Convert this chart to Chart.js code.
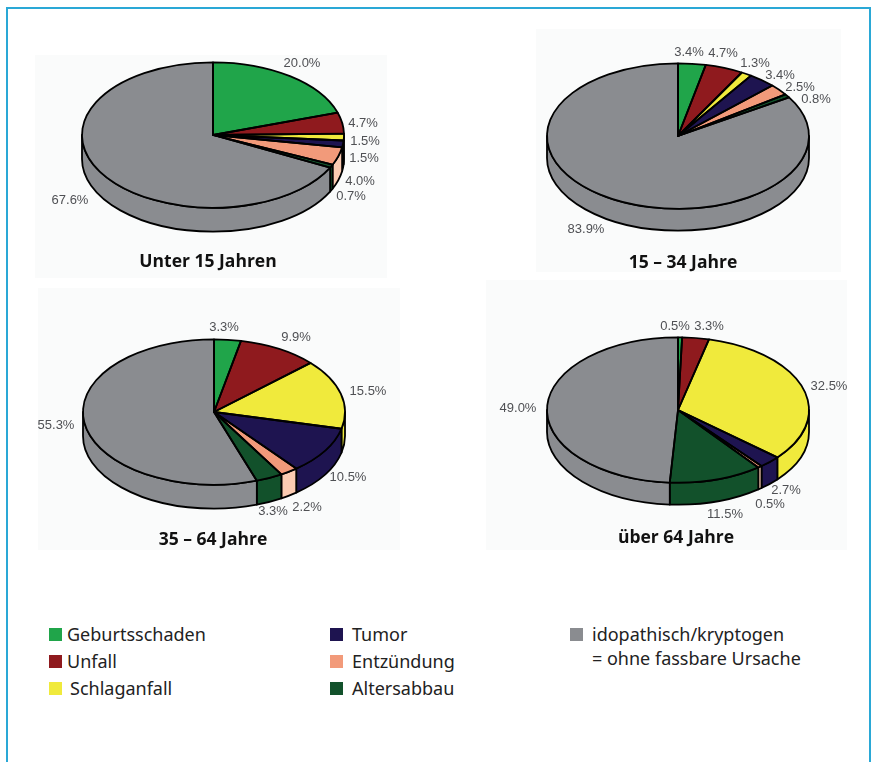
<!DOCTYPE html>
<html lang="de">
<head>
<meta charset="utf-8">
<title>Ursachen nach Altersgruppe</title>
<script src="https://cdn.jsdelivr.net/npm/chart.js@4"></script>
<style>
  html, body { margin: 0; padding: 0; background: #fff; }
  #page { position: relative; width: 875px; height: 762px; overflow: hidden; }
  #frame { position: absolute; left: 6px; top: 7px; width: 861px; height: 780px; border: 2px solid #2aa8d6; }
  .panel { position: absolute; background: #fafbfb; }
  #p1 { left: 35px; top: 55px; width: 352px; height: 223px; }
  #p2 { left: 536px; top: 29px; width: 305px; height: 243px; }
  #p3 { left: 38px; top: 288px; width: 362px; height: 262px; }
  #p4 { left: 486px; top: 280px; width: 361px; height: 270px; }
  canvas { position: absolute; width: 380px; height: 300px; }
  #c1 { left: 23px; top: -15px; }
  #c2 { left: 488px; top: -14px; }
  #c3 { left: 24px; top: 262px; }
  #c4 { left: 488px; top: 260px; }
  .ptitle { position: absolute; transform: translate(-50%, -50%); white-space: nowrap;
            font: bold 17.5px "Open Sans", sans-serif; color: #111; }
  .swatch { position: absolute; width: 13px; height: 13px; }
  .ltext { position: absolute; white-space: pre; font: 18px/20px "Noto Sans", sans-serif; color: #222; transform: translateY(calc(-50% - 1px)); }
</style>
</head>
<body>
<div id="page">
  <div id="frame"></div>
  <div class="panel" id="p1"></div>
  <div class="panel" id="p2"></div>
  <div class="panel" id="p3"></div>
  <div class="panel" id="p4"></div>
  <canvas id="c1" width="380" height="300"></canvas>
  <canvas id="c2" width="380" height="300"></canvas>
  <canvas id="c3" width="380" height="300"></canvas>
  <canvas id="c4" width="380" height="300"></canvas>
  <div class="ptitle" style="left:208px;top:260px">Unter 15 Jahren</div>
  <div class="ptitle" style="left:683px;top:261px">15 – 34 Jahre</div>
  <div class="ptitle" style="left:213px;top:538px">35 – 64 Jahre</div>
  <div class="ptitle" style="left:676px;top:536px">über 64 Jahre</div>
  <div id="legend"></div>
</div>
<script>
const categories = ['Geburtsschaden', 'Unfall', 'Schlaganfall', 'Tumor', 'Entzündung', 'Altersabbau', 'idopathisch/kryptogen\n= ohne fassbare Ursache'];

const under15 = [20.0, 4.7, 1.5, 1.5, 4.0, 0.7, 67.6];
const age15to34 = [3.4, 4.7, 1.3, 3.4, 2.5, 0.8, 83.9];
const age35to64 = [3.3, 9.9, 15.5, 10.5, 2.2, 3.3, 55.3];
const over64 = [0.5, 3.3, 32.5, 2.7, 0.5, 11.5, 49.0];

const topColors = ['#20a54a', '#8f1a1e', '#f0ea3c', '#1e1450', '#f29a7a', '#12512b', '#8a8c90'];
const wallColors = ['#20a54a', '#8f1a1e', '#f0ea3c', '#1e1450', '#fbcbb2', '#12512b', '#8a8c90'];

// hand placed percent labels, offset from the pie centre
const under15Spots = [[89, -72], [150, -12], [152, 6], [151, 23], [147, 46], [138, 61], [-143, 65]];
const age15to34Spots = [[11, -84], [45, -83], [77, -73], [102, -61], [122, -49], [138, -37], [-92, 93]];
const age35to64Spots = [[10, -85], [82, -75], [154, -21], [134, 65], [93, 95], [59, 99], [-158, 13]];
const over64Spots = [[-3, -84], [31, -84], [151, -24], [108, 80], [92, 94], [47, 104], [-160, -2]];

const squash = 0.555;
const outlineWidth = 1.8;

// pie lying flat: library arcs get squashed, the side wall goes underneath
const tiltedPie = {
  id: 'tiltedPie',
  beforeDatasetsDraw(chart, args, opts) {
    const ctx = chart.ctx;
    const arcs = chart.getDatasetMeta(0).data;
    ctx.save();
    ctx.strokeStyle = '#000';
    ctx.lineWidth = outlineWidth;
    ctx.lineJoin = 'round';
    arcs.forEach((arc, i) => {
      const from = Math.max(arc.startAngle, 0);
      const to = Math.min(arc.endAngle, Math.PI);
      if (to <= from) return;
      const rx = arc.outerRadius;
      const ry = rx * squash;
      ctx.beginPath();
      ctx.ellipse(arc.x, arc.y, rx, ry, 0, from, to);
      ctx.ellipse(arc.x, arc.y + opts.depth, rx, ry, 0, to, from, true);
      ctx.closePath();
      ctx.fillStyle = wallColors[i];
      ctx.fill();
      ctx.stroke();
    });
    ctx.restore();
  },
  beforeDatasetDraw(chart) {
    const ctx = chart.ctx;
    const arc = chart.getDatasetMeta(0).data[0];
    ctx.save();
    ctx.translate(arc.x, arc.y);
    ctx.scale(1, squash);
    ctx.translate(-arc.x, -arc.y);
  },
  afterDatasetDraw(chart) {
    const ctx = chart.ctx;
    ctx.restore();
    // outlines are stroked unscaled so the line weight stays even
    ctx.save();
    ctx.strokeStyle = '#000';
    ctx.lineWidth = outlineWidth;
    ctx.lineJoin = 'round';
    chart.getDatasetMeta(0).data.forEach(arc => {
      const rx = arc.outerRadius;
      ctx.beginPath();
      ctx.moveTo(arc.x, arc.y);
      ctx.ellipse(arc.x, arc.y, rx, rx * squash, 0, arc.startAngle, arc.endAngle);
      ctx.closePath();
      ctx.stroke();
    });
    ctx.restore();
  },
  afterDatasetsDraw(chart, args, opts) {
    const ctx = chart.ctx;
    const arcs = chart.getDatasetMeta(0).data;
    const values = chart.data.datasets[0].data;
    ctx.save();
    ctx.font = '13px "Liberation Sans", sans-serif';
    ctx.fillStyle = '#4f5054';
    ctx.textAlign = 'center';
    ctx.textBaseline = 'middle';
    values.forEach((v, i) => {
      const spot = opts.spots[i];
      ctx.fillText(v.toFixed(1) + '%', arcs[i].x + spot[0], arcs[i].y + spot[1]);
    });
    ctx.restore();
  }
};

function makePie(id, values, spots, depth) {
  return new Chart(document.getElementById(id), {
    type: 'pie',
    data: {
      labels: categories,
      datasets: [{ data: values, backgroundColor: topColors, borderWidth: 0, radius: 131 }]
    },
    options: {
      responsive: false,
      animation: false,
      events: [],
      plugins: { legend: { display: false }, tooltip: { enabled: false }, tiltedPie: { spots: spots, depth: depth } }
    },
    plugins: [tiltedPie]
  });
}

makePie('c1', under15, under15Spots, 24);
makePie('c2', age15to34, age15to34Spots, 22);
makePie('c3', age35to64, age35to64Spots, 24);
makePie('c4', over64, over64Spots, 22);

// legend, three columns
const legendSpots = [[49, 634.5, 67], [49, 661.5, 67], [49, 688.5, 70], [330, 634.5, 352], [330, 661.5, 352], [330, 688.5, 352], [570, 634.5, 592]];
const legend = document.getElementById('legend');
categories.forEach((name, i) => {
  const [sx, sy, tx] = legendSpots[i];
  const twoLines = name.includes('\n');
  const sw = document.createElement('div');
  sw.className = 'swatch';
  sw.style.cssText = `left:${sx}px;top:${sy - 6.5}px;background:${topColors[i]}`;
  legend.appendChild(sw);
  const t = document.createElement('div');
  t.className = 'ltext';
  t.style.cssText = `left:${tx}px;top:${twoLines ? sy + 12 : sy}px;line-height:${twoLines ? 24 : 20}px`;
  t.textContent = name;
  legend.appendChild(t);
});
</script>
</body>
</html>
